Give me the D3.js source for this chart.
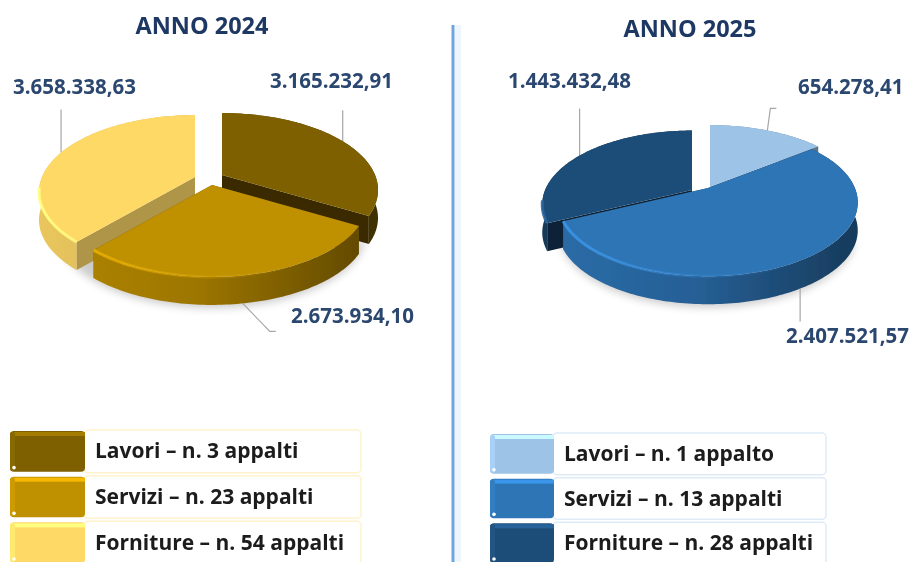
<!DOCTYPE html>
<html>
<head>
<meta charset="utf-8">
<title>Appalti 2024 - 2025</title>
<script src="https://cdn.jsdelivr.net/npm/d3@7"></script>
<style>
  html, body { margin: 0; padding: 0; background: #fff; }
  svg { display: block; font-family: "Open Sans", Lato, sans-serif; font-weight: 700; }
</style>
</head>
<body>
<svg id="chart" width="913" height="562"></svg>
<script>
// Values
const categories = ['Lavori', 'Servizi', 'Forniture'];
const values2024 = [3165232.91, 2673934.10, 3658338.63];
const values2025 = [654278.41, 2407521.57, 1443432.48];
const legend2024 = ['Lavori – n. 3 appalti', 'Servizi – n. 23 appalti', 'Forniture – n. 54 appalti'];
const legend2025 = ['Lavori – n. 1 appalto', 'Servizi – n. 13 appalti', 'Forniture – n. 28 appalti'];
const colors2024 = ['#7f6000', '#bf9000', '#ffd966'];
const colors2025 = ['#9dc3e6', '#2e75b6', '#1f4e79'];

// Layout of the two panels (pixels)
const panel2024 = {
    id: 'a', title: 'ANNO 2024', titleX: 202, titleY: 34,
    values: values2024, colors: colors2024, legend: legend2024,
    apex: [[222, 175], [212, 185], [195, 177]],
    scale: [1, 1, 1],
    cutShade: [2.2, 1.4, 1.05],
    wallShade: [0, 0, 0],
    labelPos: [[270, 88], [291, 323], [13, 94]],
    leader: [[[0, -31]], [[27, 28], [33, 28]], [[0, -43]]],
    legendX: 10, swatchW: 75, legendRight: 361, legendTop: 431, legendBottom: 563,
    tint: '#fff2cc'
};
const panel2025 = {
    id: 'b', title: 'ANNO 2025', titleX: 690, titleY: 37,
    values: values2025, colors: colors2025, legend: legend2025,
    apex: [[710, 187], [708, 188], [692, 190]],
    scale: [1, 0.96, 0.96],
    cutShade: [1.6, 1.4, 2.2],
    wallShade: [0, 0, 0.6],
    labelPos: [[798, 94], [786, 343], [508, 88]],
    leader: [[[3, -22], [9, -22]], [[0, 33]], [[0, -47]]],
    legendX: 490, swatchW: 64, legendRight: 826, legendTop: 434, legendBottom: 563,
    tint: '#deebf7'
};

// Pie geometry: tilted disc seen with a little perspective
const RX = 153, RY = 74, PERSP = 0.195, DEPTH = 28;
const drawOrder = [0, 2, 1]; // Servizi sits in front, paint it last

const svg = d3.select('#chart');
const defs = svg.append('defs');
defs.append('filter').attr('id', 'soft').attr('x', '-20%').attr('y', '-40%').attr('width', '140%').attr('height', '180%')
    .append('feGaussianBlur').attr('stdDeviation', 4);
defs.append('filter').attr('id', 'haze').attr('x', '0').attr('y', '0').attr('width', '100%').attr('height', '100%')
    .append('feGaussianBlur').attr('stdDeviation', 0.45);

const root = svg.append('g').attr('filter', 'url(#haze)');
root.append('rect').attr('width', 913).attr('height', 562).attr('fill', '#fff');

const itFormat = d3.formatLocale({ decimal: ',', thousands: '.', grouping: [3], currency: ['', ' €'] }).format(',.2f');
const pathLine = d3.line();

// Project an angle on the rim, relative to the slice apex
function rim(theta, k) {
    const w = 1 + PERSP * Math.cos(theta);
    return [k * RX * Math.sin(theta) / w, -k * RY * Math.cos(theta) / w];
}

function arcPoints(a0, a1, ax, ay, k, dy) {
    const n = Math.max(2, Math.ceil((a1 - a0) / 0.02));
    return d3.range(n + 1).map(i => {
        const p = rim(a0 + (a1 - a0) * i / n, k);
        return [ax + p[0], ay + p[1] + dy];
    });
}

function wallGradient(id, color, ax, k, shade) {
    const c = d3.color(color);
    const grad = defs.append('linearGradient').attr('id', id)
        .attr('gradientUnits', 'userSpaceOnUse')
        .attr('x1', ax - k * RX).attr('x2', ax + k * RX).attr('y1', 0).attr('y2', 0);
    grad.append('stop').attr('offset', '0%').attr('stop-color', c.darker(0.25 + shade));
    grad.append('stop').attr('offset', '45%').attr('stop-color', c.darker(0.55 + shade));
    grad.append('stop').attr('offset', '100%').attr('stop-color', c.darker(1.9));
}

function rimGradient(id, color, ax, k) {
    const c = d3.color(color).brighter(0.7);
    const grad = defs.append('linearGradient').attr('id', id)
        .attr('gradientUnits', 'userSpaceOnUse')
        .attr('x1', ax - k * RX).attr('x2', ax + k * RX).attr('y1', 0).attr('y2', 0);
    grad.append('stop').attr('offset', '0%').attr('stop-color', c).attr('stop-opacity', 0.9);
    grad.append('stop').attr('offset', '50%').attr('stop-color', c).attr('stop-opacity', 0.2);
    grad.append('stop').attr('offset', '80%').attr('stop-color', c).attr('stop-opacity', 0);
}

function drawPanel(cfg) {
    const g = root.append('g');
    const arcs = d3.pie().sort(null)(cfg.values);
    const color = d3.scaleOrdinal().domain(categories).range(cfg.colors);

    g.append('text').attr('x', cfg.titleX).attr('y', cfg.titleY)
        .attr('text-anchor', 'middle').attr('font-size', 23.5).attr('fill', '#1f3864')
        .text(cfg.title);

    // soft shadow under the front of the disc only, the gap between slices stays white
    const mid = cfg.apex[1];
    g.append('path')
        .attr('d', pathLine(arcPoints(Math.PI * 0.6, Math.PI * 1.4, mid[0], mid[1], cfg.scale[1] * 0.99, DEPTH + 4)) + 'Z')
        .attr('fill', '#000').attr('opacity', 0.2).attr('filter', 'url(#soft)');

    // leader lines go under the slices
    arcs.forEach((d, i) => {
        const a = (d.startAngle + d.endAngle) / 2;
        const p = rim(a, cfg.scale[i]);
        const front = Math.cos(a) < -0.5;
        const start = [cfg.apex[i][0] + p[0], cfg.apex[i][1] + p[1] + (front ? DEPTH : 0)];
        const pts = [start].concat(cfg.leader[i].map(o => [start[0] + o[0], start[1] + o[1]]));
        g.append('path').attr('d', pathLine(pts))
            .attr('fill', 'none').attr('stroke', '#a6a6a6').attr('stroke-width', 1.2);
    });

    drawOrder.forEach(i => {
        const d = arcs[i];
        const cat = categories[i];
        const base = color(cat);
        const [ax, ay] = cfg.apex[i];
        const k = cfg.scale[i];
        const top = arcPoints(d.startAngle, d.endAngle, ax, ay, k, 0);
        const bottom = arcPoints(d.startAngle, d.endAngle, ax, ay, k, DEPTH);
        const wallId = 'wall' + cfg.id + i, rimId = 'rim' + cfg.id + i;
        wallGradient(wallId, base, ax, k, cfg.wallShade[i]);
        rimGradient(rimId, base, ax, k);

        // both cut faces first, the outer wall and the top hide whichever looks away
        const cutColor = d3.color(base).darker(cfg.cutShade[i]);
        [top[0], top[top.length - 1]].forEach(e => {
            g.append('path')
                .attr('d', pathLine([[ax, ay], e, [e[0], e[1] + DEPTH], [ax, ay + DEPTH]]) + 'Z')
                .attr('fill', cutColor);
        });

        // outer wall
        g.append('path').attr('d', pathLine(top.concat(bottom.slice().reverse())) + 'Z')
            .attr('fill', `url(#${wallId})`);

        // top surface
        g.append('path').attr('d', pathLine([[ax, ay]].concat(top)) + 'Z').attr('fill', base);

        // bevel highlight along the front of the rim
        const frontRim = top.filter(pt => pt[1] > ay + 10);
        g.append('path').attr('d', pathLine(frontRim))
            .attr('fill', 'none').attr('stroke', `url(#${rimId})`).attr('stroke-width', 3);
    });

    // value labels
    arcs.forEach((d, i) => {
        g.append('text').attr('x', cfg.labelPos[i][0]).attr('y', cfg.labelPos[i][1])
            .attr('font-size', 20.5).attr('fill', '#2c4770')
            .text(itFormat(d.data));
    });

    // legend
    const rows = d3.scaleBand().domain(categories)
        .range([cfg.legendTop, cfg.legendBottom]).paddingInner(0.11).paddingOuter(0);
    categories.forEach((cat, i) => {
        const y = rows(cat), h = rows.bandwidth();
        const sx = cfg.legendX, sw = cfg.swatchW;
        g.append('rect').attr('x', sx + sw - 1).attr('y', y - 1)
            .attr('width', cfg.legendRight - sx - sw + 1).attr('height', h + 2).attr('rx', 4)
            .attr('fill', '#fff').attr('stroke', cfg.tint).attr('stroke-width', 1.5);
        g.append('rect').attr('x', sx).attr('y', y).attr('width', sw).attr('height', h).attr('rx', 4)
            .attr('fill', color(cat));
        g.append('rect').attr('x', sx + 1).attr('y', y + 1).attr('width', sw - 1).attr('height', 4)
            .attr('fill', d3.color(color(cat)).brighter(0.7));
        g.append('rect').attr('x', sx).attr('y', y + 1).attr('width', 5).attr('height', h - 2).attr('rx', 2)
            .attr('fill', d3.color(color(cat)).brighter(0.2));
        g.append('circle').attr('cx', sx + 4).attr('cy', y + h - 4).attr('r', 1.8).attr('fill', '#fff');
        g.append('text').attr('x', sx + sw + 10).attr('y', y + h / 2 + 7)
            .attr('font-size', 21).attr('fill', '#1a1a1a')
            .text(cfg.legend[i]);
    });
}

// divider between the two years
root.append('line').attr('x1', 453).attr('x2', 453).attr('y1', 25).attr('y2', 562)
    .attr('stroke', '#6fa5dc').attr('stroke-width', 3);
root.append('rect').attr('x', 455).attr('y', 25).attr('width', 6).attr('height', 537).attr('fill', '#eef6fd');

drawPanel(panel2024);
drawPanel(panel2025);
</script>
</body>
</html>
